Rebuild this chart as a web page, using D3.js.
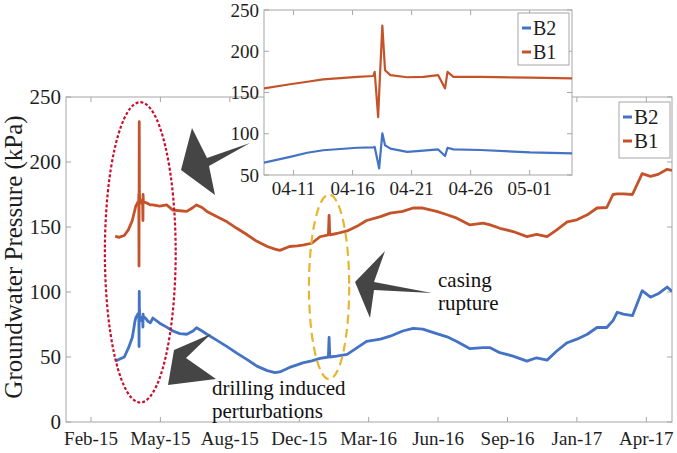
<!DOCTYPE html>
<html><head><meta charset="utf-8">
<script src="https://cdn.jsdelivr.net/npm/d3@7"></script>
<style>
body{margin:0;background:#fff;}
</style>
</head><body>
<svg id="c" width="677" height="453" font-family="'Liberation Serif', 'DejaVu Serif', serif"></svg>
<script>
// ---------- DATA ----------
const seriesNames = ["B2", "B1"];
const seriesColors = ["#4472c4", "#c5532a"];

// record outside the zoomed window
const mainDates = ["2015-03-15","2015-03-20","2015-03-28","2015-04-03","2015-05-08","2015-05-18","2015-05-28","2015-06-06","2015-06-16","2015-06-26","2015-07-05","2015-07-10","2015-07-18","2015-07-25","2015-08-08","2015-08-23","2015-09-06","2015-09-21","2015-10-05","2015-10-20","2015-10-31","2015-11-07","2015-11-21","2015-12-02","2015-12-10","2015-12-23","2016-01-04","2016-01-16","2016-01-17","2016-01-18","2016-01-28","2016-02-12","2016-02-26","2016-03-11","2016-03-31","2016-04-14","2016-05-02","2016-05-17","2016-05-31","2016-06-20","2016-07-05","2016-07-19","2016-08-07","2016-08-26","2016-09-05","2016-09-19","2016-10-08","2016-10-28","2016-11-11","2016-11-26","2016-12-10","2016-12-25","2017-01-08","2017-01-23","2017-02-06","2017-02-20","2017-03-01","2017-03-07","2017-03-16","2017-03-29","2017-04-12","2017-04-24","2017-05-05","2017-05-18","2017-05-25"];
const mainB1 = [143,142,143.5,148,167,166,167,163,162.5,162,165,167,165,162,158,154,149,144,139,135,133,132,135,135.5,136,137.5,142.5,144,159,144,145,147,150.5,155,158,160.7,162,164.6,164.6,162,159.4,156.8,151.6,153,151.6,149,146.5,142.6,144.4,142.6,147.8,154,155.5,159.4,164.6,165,175,175.5,175.5,175,191,189,190.5,194.4,193.6];
const mainB2 = [47,48,50,57,80,76,73,70,68,67.5,70,72.5,70,67.5,63,58,53,48,43,39.5,38,38.5,42,44,45.5,47,49,50,65,50,50.7,52,57,62,63.7,66,70,72,71.5,68,65.5,62,56.4,57.2,57.2,53.3,50.7,46.8,49.4,47.6,54.6,61,63.7,67.5,72.7,72.7,78,84.4,83,81.8,101,96,98.6,103.8,100.4];

// detailed record, April 2015 (inset window)
const insetDates = ["2015-04-08T12:00","2015-04-10T17:00","2015-04-12T04:00","2015-04-13T12:00","2015-04-16T10:00","2015-04-17T18:00","2015-04-17T21:00","2015-04-18T04:00","2015-04-18T06:00","2015-04-18T12:30","2015-04-18T18:00","2015-04-19T05:00","2015-04-20T15:00","2015-04-22T00:00","2015-04-23T06:00","2015-04-23T20:00","2015-04-24T01:00","2015-04-24T13:00","2015-04-26T20:00","2015-05-01T01:00","2015-05-04T14:00"];
const insetB1 = [155,160,163,166,169,170,175,120,148,231,177,171,168.5,169,171,155,175,169,169,168,167];
const insetB2 = [65,72,77,80,83,83.5,84,64,58,100.5,86,82,78,79.5,81,73,83,81,80.3,77.5,76.3];

const xTickDates = ["2015-02-08","2015-05-19","2015-08-27","2015-12-05","2016-03-14","2016-06-22","2016-09-30","2017-01-08","2017-04-18"];
const xTickLabels = ["Feb-15","May-15","Aug-15","Dec-15","Mar-16","Jun-16","Sep-16","Jan-17","Apr-17"];
const yTicks = [0,50,100,150,200,250];
const insetXTickDates = ["2015-04-11","2015-04-16","2015-04-21","2015-04-26","2015-05-01"];
const insetXTickLabels = ["04-11","04-16","04-21","04-26","05-01"];
const insetYTicks = [50,100,150,200,250];

const yLabel = "Groundwater Pressure (kPa)";
const noteDrill = ["drilling induced","perturbations"];
const noteCasing = ["casing","rupture"];

// ---------- DRAW ----------
const P = s => new Date(s.length > 10 ? s + "Z" : s + "T00:00Z");
const svg = d3.select("#c");
const axisCol = "#a6a6a6";
const txtCol = "#1e1e1e";

function merged(mainVals, insetVals) {
  const a = mainDates.map((d,i)=>({t:P(d), v:mainVals[i]}));
  const b = insetDates.map((d,i)=>({t:P(d), v:insetVals[i]}));
  return a.concat(b).sort((p,q)=>p.t-q.t);
}
const mainSeries = [merged(mainB2, insetB2), merged(mainB1, insetB1)];
const insetSeries = [insetB2, insetB1].map(vals => insetDates.map((d,i)=>({t:P(d), v:vals[i]})));

// main axes
const M = {l:66, r:672, t:97, b:422};
const x = d3.scaleUtc().domain([P("2015-01-03"), P("2017-05-25")]).range([M.l, M.r]);
const y = d3.scaleLinear().domain([0,250]).range([M.b, M.t]);

svg.append("clipPath").attr("id","mclip").append("rect")
  .attr("x",M.l).attr("y",M.t).attr("width",M.r-M.l).attr("height",M.b-M.t);

const gMain = svg.append("g");
gMain.append("rect").attr("x",M.l).attr("y",M.t).attr("width",M.r-M.l).attr("height",M.b-M.t)
  .attr("fill","none").attr("stroke",axisCol).attr("stroke-width",1);

const xTicksD = xTickDates.map(P);
xTicksD.forEach(d=>{
  gMain.append("line").attr("x1",x(d)).attr("x2",x(d)).attr("y1",M.b).attr("y2",M.b-5).attr("stroke",axisCol);
  gMain.append("line").attr("x1",x(d)).attr("x2",x(d)).attr("y1",M.t).attr("y2",M.t+5).attr("stroke",axisCol);
});
yTicks.forEach(v=>{
  gMain.append("line").attr("x1",M.l).attr("x2",M.l+5).attr("y1",y(v)).attr("y2",y(v)).attr("stroke",axisCol);
  gMain.append("line").attr("x1",M.r).attr("x2",M.r-5).attr("y1",y(v)).attr("y2",y(v)).attr("stroke",axisCol);
});
gMain.selectAll(".xl").data(xTicksD).join("text")
  .attr("x",d=>x(d)).attr("y",445).attr("text-anchor","middle").attr("font-size",19).attr("fill",txtCol)
  .text((d,i)=>xTickLabels[i]);
gMain.selectAll(".yl").data(yTicks).join("text")
  .attr("x",61).attr("y",v=>y(v)).attr("dy","0.35em").attr("text-anchor","end").attr("font-size",21).attr("fill",txtCol)
  .text(v=>v);
svg.append("text").attr("transform","translate(22,257) rotate(-90)").attr("text-anchor","middle")
  .attr("font-size",25).attr("fill",txtCol).text(yLabel);

const line = d3.line().x(d=>x(d.t)).y(d=>y(d.v));
mainSeries.forEach((s,i)=>{
  gMain.append("path").datum(s).attr("d",line).attr("fill","none")
    .attr("stroke",seriesColors[i]).attr("stroke-width",2.8).attr("stroke-linejoin","round")
    .attr("clip-path","url(#mclip)");
});

// ellipses (data coordinates)
function ell(cDate, cVal, halfDays, halfVal, color, dash) {
  const cx = x(P(cDate)), cy = y(cVal);
  const rx = x(new Date(P(cDate).getTime() + halfDays*864e5)) - cx;
  const ry = y(cVal - halfVal) - cy;
  svg.append("ellipse").attr("cx",cx).attr("cy",cy).attr("rx",rx).attr("ry",ry)
    .attr("fill","none").attr("stroke",color).attr("stroke-width",2.2).attr("stroke-dasharray",dash);
}
ell("2015-04-20", 130.5, 51, 115.5, "#c8102e", "3,2");
ell("2016-01-17", 104, 29, 71, "#e8b52e", "9,5");

// arrows
const arrowCol = "#454545";
const arrows = [
  [[181,170],[192,128],[207,158],[250,143],[209,166],[215,195]],
  [[168,385],[174,350],[211,334],[186,358],[216,379]],
  [[355,282],[385,251],[374,282],[432,293],[374,290],[370,318]]
];
arrows.forEach(a=>{
  svg.append("path").attr("d","M"+a.map(p=>p.join(",")).join("L")+"Z").attr("fill",arrowCol);
});

// annotations
const tDrill = svg.append("text").attr("font-size",21).attr("fill","#111");
noteDrill.forEach((t,i)=>tDrill.append("tspan").attr("x",212).attr("y",395+i*23).text(t));
const tCas = svg.append("text").attr("font-size",21).attr("fill","#111");
noteCasing.forEach((t,i)=>tCas.append("tspan").attr("x",438).attr("y",287+i*23).text(t));

function legend(x0,y0,w,h,rowY,sx,fs) {
  svg.append("rect").attr("x",x0).attr("y",y0).attr("width",w).attr("height",h)
    .attr("fill","#fff").attr("stroke",axisCol);
  seriesNames.forEach((n,i)=>{
    svg.append("line").attr("x1",sx).attr("x2",sx+9).attr("y1",rowY[i]).attr("y2",rowY[i])
      .attr("stroke",seriesColors[i]).attr("stroke-width",3);
    svg.append("text").attr("x",sx+11).attr("y",rowY[i]).attr("dy","0.35em").attr("font-size",fs)
      .attr("fill",txtCol).text(n);
  });
}
legend(619,102,51,56,[117,141],623,21);

// ---------- INSET ----------
const I = {l:264, r:572, t:10, b:175};
const xi = d3.scaleUtc().domain([P("2015-04-08T12:00"), P("2015-05-04T14:00")]).range([I.l, I.r]);
const yi = d3.scaleLinear().domain([50,250]).range([I.b, I.t]);
svg.append("rect").attr("x",I.l).attr("y",I.t).attr("width",I.r-I.l).attr("height",I.b-I.t)
  .attr("fill","#fff").attr("stroke",axisCol);
svg.append("clipPath").attr("id","iclip").append("rect")
  .attr("x",I.l).attr("y",I.t).attr("width",I.r-I.l).attr("height",I.b-I.t);
const ixT = insetXTickDates.map(P);
ixT.forEach(d=>{
  svg.append("line").attr("x1",xi(d)).attr("x2",xi(d)).attr("y1",I.b).attr("y2",I.b-5).attr("stroke",axisCol);
  svg.append("line").attr("x1",xi(d)).attr("x2",xi(d)).attr("y1",I.t).attr("y2",I.t+5).attr("stroke",axisCol);
});
insetYTicks.forEach(v=>{
  svg.append("line").attr("x1",I.l).attr("x2",I.l+5).attr("y1",yi(v)).attr("y2",yi(v)).attr("stroke",axisCol);
  svg.append("line").attr("x1",I.r).attr("x2",I.r-5).attr("y1",yi(v)).attr("y2",yi(v)).attr("stroke",axisCol);
});
svg.selectAll(".ixl").data(ixT).join("text")
  .attr("x",d=>xi(d)).attr("y",195).attr("text-anchor","middle").attr("font-size",19).attr("fill",txtCol)
  .text((d,i)=>insetXTickLabels[i]);
svg.selectAll(".iyl").data(insetYTicks).join("text")
  .attr("x",259).attr("y",v=>yi(v)).attr("dy","0.35em").attr("text-anchor","end").attr("font-size",19).attr("fill",txtCol)
  .text(v=>v);
const lineI = d3.line().x(d=>xi(d.t)).y(d=>yi(d.v));
insetSeries.forEach((s,i)=>{
  svg.append("path").datum(s).attr("d",lineI).attr("fill","none")
    .attr("stroke",seriesColors[i]).attr("stroke-width",2.2).attr("stroke-linejoin","round")
    .attr("clip-path","url(#iclip)");
});
legend(518,13,51,52,[28,52],522,20);
</script>
</body></html>
